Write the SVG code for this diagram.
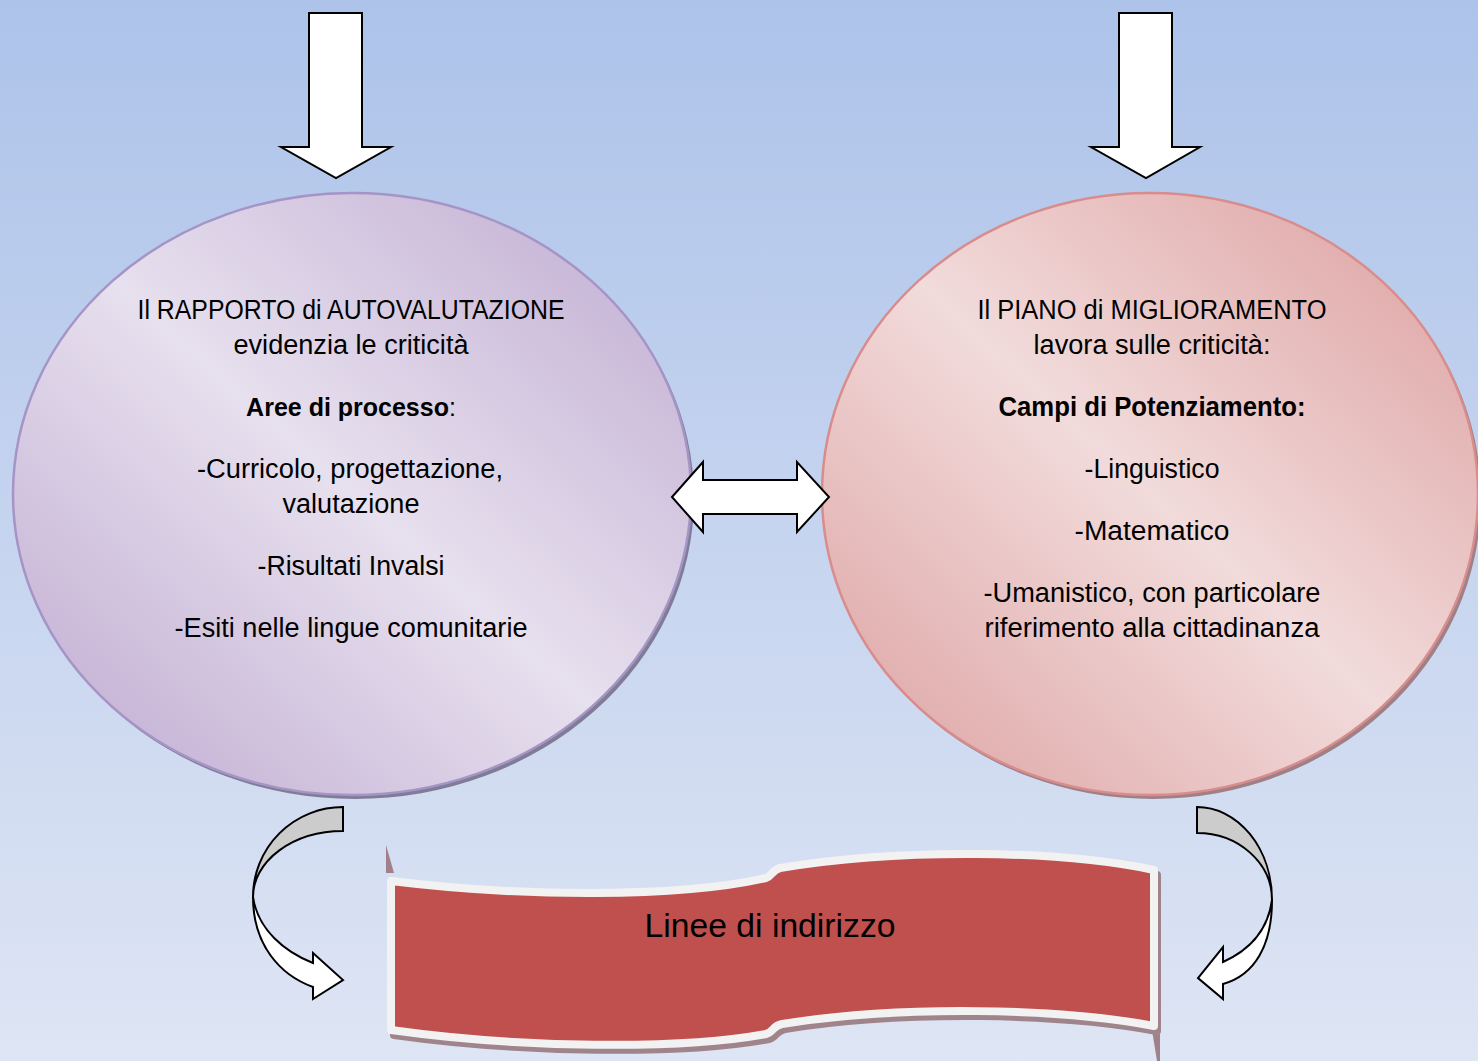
<svg xmlns="http://www.w3.org/2000/svg" width="1478" height="1061" viewBox="0 0 1478 1061">
<defs>
<linearGradient id="bg" x1="0" y1="0" x2="0" y2="1">
<stop offset="0" stop-color="#adc3ea"/>
<stop offset="1" stop-color="#dee5f4"/>
</linearGradient>
<linearGradient id="gPurple" x1="1" y1="0" x2="0" y2="1">
<stop offset="0" stop-color="#bea9d0"/>
<stop offset="0.5" stop-color="#e7e0ee"/>
<stop offset="1" stop-color="#bda7cf"/>
</linearGradient>
<linearGradient id="gPink" x1="1" y1="0" x2="0" y2="1">
<stop offset="0" stop-color="#dc9d9d"/>
<stop offset="0.5" stop-color="#f2dbdb"/>
<stop offset="1" stop-color="#dc9f9f"/>
</linearGradient>
<style>
text{font-family:"Liberation Sans","Noto Sans",sans-serif;fill:#000;}
.t{font-size:27px;text-anchor:middle;}
.b{font-weight:bold;}
.arrow{fill:#fff;stroke:#000;stroke-width:2;stroke-linejoin:miter;}
.back{fill:#cccccc;stroke:#000;stroke-width:2;}
</style>
</defs>
<rect width="1478" height="1061" fill="url(#bg)"/>

<g id="node-rapporto">
<ellipse cx="355" cy="498" rx="339" ry="301" fill="#7f7d96"/>
<ellipse cx="352" cy="494" rx="339" ry="301" fill="url(#gPurple)" stroke="#a594c6" stroke-width="2.5"/>
<text class="t" x="351" y="319" textLength="427" lengthAdjust="spacingAndGlyphs">Il RAPPORTO di AUTOVALUTAZIONE</text>
<text class="t" x="351" y="354" textLength="235" lengthAdjust="spacingAndGlyphs">evidenzia le criticità</text>
<text class="t" x="351" y="416" style="font-size:25px"><tspan class="b">Aree di processo</tspan>:</text>
<text class="t" x="350" y="478" textLength="306" lengthAdjust="spacingAndGlyphs">-Curricolo, progettazione,</text>
<text class="t" x="351" y="513" textLength="137" lengthAdjust="spacingAndGlyphs">valutazione</text>
<text class="t" x="351" y="575" textLength="187" lengthAdjust="spacingAndGlyphs">-Risultati Invalsi</text>
<text class="t" x="351" y="637" textLength="353" lengthAdjust="spacingAndGlyphs">-Esiti nelle lingue comunitarie</text>
</g>

<g id="node-piano">
<ellipse cx="1153" cy="498" rx="328" ry="301" fill="#9e8088"/>
<ellipse cx="1150" cy="494" rx="328" ry="301" fill="url(#gPink)" stroke="#d88c8c" stroke-width="2.5"/>
<text class="t" x="1152" y="319" textLength="349" lengthAdjust="spacingAndGlyphs">Il PIANO di MIGLIORAMENTO</text>
<text class="t" x="1152" y="354" textLength="237" lengthAdjust="spacingAndGlyphs">lavora sulle criticità:</text>
<text class="t b" x="1152" y="416" textLength="307" lengthAdjust="spacingAndGlyphs">Campi di Potenziamento:</text>
<text class="t" x="1152" y="478" textLength="135" lengthAdjust="spacingAndGlyphs">-Linguistico</text>
<text class="t" x="1152" y="540" textLength="155" lengthAdjust="spacingAndGlyphs">-Matematico</text>
<text class="t" x="1152" y="602" textLength="337" lengthAdjust="spacingAndGlyphs">-Umanistico, con particolare</text>
<text class="t" x="1152" y="637" textLength="335" lengthAdjust="spacingAndGlyphs">riferimento alla cittadinanza</text>
</g>

<g id="node-linee">
<polygon points="386,845 394,873 386,873" fill="#a0808a"/>
<polygon points="1152,1030 1160,1030 1160,1061 1157,1061" fill="#a0808a"/>
<path d="M391,881 C520,897 680,898 766,878 C772,876 772,870 780,868 C900,848 1060,850 1154,870 L1154,1026 C1060,1008 900,1005 782,1024 C772,1026 774,1032 766,1034 C680,1050 520,1048 391,1030 Z" transform="translate(3,5)" fill="#a0848b" stroke="#a0848b" stroke-width="8" stroke-linejoin="round"/>
<path d="M391,881 C520,897 680,898 766,878 C772,876 772,870 780,868 C900,848 1060,850 1154,870 L1154,1026 C1060,1008 900,1005 782,1024 C772,1026 774,1032 766,1034 C680,1050 520,1048 391,1030 Z" fill="#c0504d" stroke="#f2f2f2" stroke-width="8" stroke-linejoin="round"/>
<text x="770" y="937" font-size="34" text-anchor="middle" textLength="251" lengthAdjust="spacingAndGlyphs">Linee di indirizzo</text>
</g>

<g id="connectors">
<path class="arrow" d="M309,13 L362,13 L362,147 L391,147 L336,178 L281,147 L309,147 Z"/>
<path class="arrow" d="M1119,13 L1172,13 L1172,147 L1200,147 L1146,178 L1091,147 L1119,147 Z"/>
<path class="arrow" d="M672,497 L703,462 L703,480 L797,480 L797,462 L829,497 L797,532 L797,514 L703,514 L703,532 Z"/>
<path class="back" d="M343,807 A90,90 0 0 0 253,897 A90,66 0 0 1 343,831 Z"/>
<path class="arrow" d="M253,897 C253,945 280,975 313,987 L313,999 L343,980 L313,953 L313,963 C285,952 258,930 253,897 Z"/>
<path class="back" d="M1197,807 A75,93 0 0 1 1272,900 A75,67 0 0 0 1197,833 Z"/>
<path class="arrow" d="M1272,900 C1272,945 1255,975 1223,984 L1223,999 L1198,978 L1223,947 L1223,962 C1250,950 1268,930 1272,900 Z"/>
</g>
</svg>
